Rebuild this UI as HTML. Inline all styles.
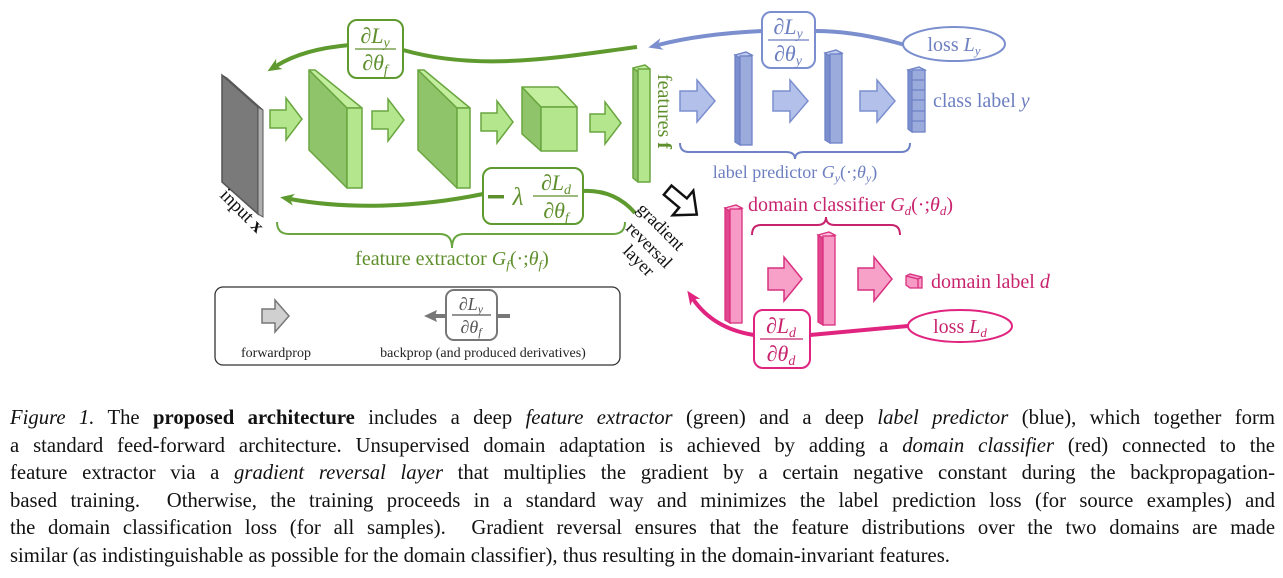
<!DOCTYPE html>
<html><head><meta charset="utf-8">
<style>
html,body{margin:0;padding:0;background:#fff;width:1283px;height:578px;overflow:hidden;position:relative;font-family:"Liberation Serif",serif;}
svg{position:absolute;left:0;top:0;}
.cap{position:absolute;left:10px;width:1265px;font-size:20.7px;line-height:21px;color:#111;text-align:justify;text-align-last:justify;white-space:nowrap;}
.cap.last{text-align-last:left}
</style></head><body>
<svg width="1283" height="400" viewBox="0 0 1283 400" font-family="Liberation Serif, serif">
<defs>
<marker id="mg" markerWidth="20" markerHeight="20" refX="4" refY="6" orient="auto" markerUnits="userSpaceOnUse" overflow="visible"><path d="M14,6 L0,0 L4,6 L0,12 Z" fill="#5e9a2e"/></marker>
<marker id="mb" markerWidth="20" markerHeight="20" refX="4" refY="6" orient="auto" markerUnits="userSpaceOnUse" overflow="visible"><path d="M14,6 L0,0 L4,6 L0,12 Z" fill="#7b8fce"/></marker>
<marker id="mp" markerWidth="20" markerHeight="20" refX="4" refY="6" orient="auto" markerUnits="userSpaceOnUse" overflow="visible"><path d="M14,6 L0,0 L4,6 L0,12 Z" fill="#e0247f"/></marker>
</defs>

<!-- input slab -->
<polygon points="222,75 258,107 258,214 222,182" fill="#7a7a7a" stroke="#555" stroke-width="1.5"/>
<polygon points="258,107 263,110 263,217 258,214" fill="#b0b0b0" stroke="#555" stroke-width="1"/>
<polygon points="222,75 227,78 263,110 258,107" fill="#999" stroke="#555" stroke-width="1"/>

<!-- green arrows -->
<g fill="#b4e68e" stroke="#6aa640" stroke-width="1.5">
<path d="M270,110 h16 v-12 l16,21 l-16,21 v-12 h-16 z"/>
<path d="M372,111 h16 v-12 l16,21 l-16,21 v-12 h-16 z"/>
<path d="M481,113 h16 v-12 l16,21 l-16,21 v-12 h-16 z"/>
<path d="M590,114 h15 v-12 l16,21 l-16,21 v-12 h-15 z"/>
</g>
<g stroke="#6aa640" stroke-width="1.5" stroke-linejoin="round">
<polygon points="309,70 347,108 347,188 309,150" fill="#8fc46a"/>
<polygon points="309,70 315,70 362,108 347,108" fill="#c3ee9e"/>
<polygon points="347,108 362,108 362,188 347,188" fill="#b4e68e"/>
<polygon points="418,70 457,108 457,188 418,150" fill="#8fc46a"/>
<polygon points="418,70 424,70 470,108 457,108" fill="#c3ee9e"/>
<polygon points="457,108 470,108 470,188 457,188" fill="#b4e68e"/>
<polygon points="522,87 541,107 541,151 522,134" fill="#8fc46a"/>
<polygon points="522,87 558,87 577,107 541,107" fill="#c3ee9e"/>
<rect x="541" y="107" width="36" height="44" fill="#b4e68e"/>
<polygon points="633,68 638,72 638,182 633,178" fill="#8fc46a"/>
<polygon points="633,68 645,65 650,69 638,72" fill="#c3ee9e"/>
<rect x="638" y="69" width="12" height="113" fill="#b4e68e"/>
</g>
<text transform="translate(658,74) rotate(90)" font-size="20" fill="#5e8f2c">features <tspan font-weight="bold">f</tspan></text>

<!-- top green backprop -->
<path d="M637,47 C560,57 480,72 403,50 L350,45 C315,48 292,56 276,66" fill="none" stroke="#5e9a2e" stroke-width="4" marker-end="url(#mg)"/>
<rect x="348" y="20" width="55" height="58" rx="9" fill="#fff" stroke="#5e9a2e" stroke-width="2"/>
<g fill="#5e8f2c" font-style="italic" font-size="22" text-anchor="middle">
<text x="375" y="43">∂L<tspan font-size="14" dy="4">y</tspan></text>
<line x1="355" y1="49" x2="396" y2="49" stroke="#5e8f2c" stroke-width="1.3"/>
<text x="375" y="70">∂θ<tspan font-size="14" dy="4">f</tspan></text>
</g>

<!-- bottom green backprop -->
<path d="M635,213 C622,198 605,190 583,191 L483,194 C420,207 350,210 290,199" fill="none" stroke="#5e9a2e" stroke-width="4" marker-end="url(#mg)"/>
<rect x="483" y="168" width="100" height="56" rx="9" fill="#fff" stroke="#5e9a2e" stroke-width="2"/>
<g fill="#5e8f2c" font-size="22" text-anchor="middle" font-style="italic">
<rect x="488" y="195" width="16" height="3.5" fill="#5e8f2c"/>
<text x="518" y="205" font-size="25">λ</text>
<text x="556" y="190">∂L<tspan font-size="14" dy="4">d</tspan></text>
<line x1="533" y1="196" x2="578" y2="196" stroke="#5e8f2c" stroke-width="1.3"/>
<text x="556" y="218">∂θ<tspan font-size="14" dy="4">f</tspan></text>
</g>

<path d="M277,222 q0,12 12,12 L440,234 q12,0 12,14 q0,-14 12,-14 L613,234 q12,0 12,-12" fill="none" stroke="#6aa640" stroke-width="2"/>
<text x="452" y="265" text-anchor="middle" font-size="20" fill="#5e8f2c">feature extractor <tspan font-style="italic">G<tspan font-size="13" dy="4">f</tspan><tspan dy="-4" font-style="normal">(·;</tspan>θ<tspan font-size="13" dy="4">f</tspan><tspan dy="-4" font-style="normal">)</tspan></tspan></text>

<text transform="translate(219,196) rotate(45)" font-size="19" fill="#111">input <tspan font-weight="bold">x</tspan></text>
<g font-size="18" fill="#111">
<text transform="translate(636,210) rotate(45)">gradient</text>
<text transform="translate(625,229) rotate(45)">reversal</text>
<text transform="translate(622,252) rotate(45)">layer</text>
</g>
<g transform="translate(683,203) rotate(40)">
<path d="M-20,-6 h20 v-10 l18,16 l-18,16 v-10 h-20 z" fill="#fff" stroke="#111" stroke-width="2.5"/>
</g>

<!-- blue predictor -->
<g fill="#b2c0ea" stroke="#7b8fce" stroke-width="1.5">
<path d="M680,91 h17 v-11 l18,21 l-18,21 v-11 h-17 z"/>
<path d="M773,91 h17 v-11 l18,21 l-18,21 v-11 h-17 z"/>
<path d="M860,91 h17 v-11 l18,21 l-18,21 v-11 h-17 z"/>
</g>
<g stroke="#6f82c6" stroke-width="1.3">
<polygon points="735,55 740,58 740,145 735,142" fill="#7b8fce"/>
<polygon points="735,55 746,52 752,55 740,58" fill="#c0ccf0"/>
<rect x="740" y="56" width="12" height="89" fill="#9aabdc"/>
<polygon points="825,53 830,56 830,143 825,140" fill="#7b8fce"/>
<polygon points="825,53 836,50 842,53 830,56" fill="#c0ccf0"/>
<rect x="830" y="54" width="12" height="89" fill="#9aabdc"/>
<polygon points="908,70 912,72 912,132 908,129" fill="#7b8fce"/>
<polygon points="908,70 919,67 925,70 912,72" fill="#c0ccf0"/>
<rect x="912" y="70" width="13" height="62" fill="#9aabdc"/>
<line x1="912" y1="80" x2="925" y2="80"/><line x1="912" y1="90" x2="925" y2="90"/><line x1="912" y1="100" x2="925" y2="100"/><line x1="912" y1="111" x2="925" y2="111"/><line x1="912" y1="121" x2="925" y2="121"/>
</g>
<text x="933" y="107" font-size="20" fill="#6d7fc0">class label <tspan font-style="italic">y</tspan></text>
<path d="M680,143 q0,9 9,9 L786,152 q9,0 9,7 q0,-7 9,-7 L901,152 q9,0 9,-9" fill="none" stroke="#6f82c6" stroke-width="2"/>
<text x="795" y="178" text-anchor="middle" font-size="18" fill="#6d7fc0">label predictor <tspan font-style="italic">G<tspan font-size="12" dy="4">y</tspan><tspan dy="-4" font-style="normal">(·;</tspan>θ<tspan font-size="12" dy="4">y</tspan><tspan dy="-4" font-style="normal">)</tspan></tspan></text>
<path d="M905,45 C870,35 840,31 815,31 L762,31 C720,33 685,38 658,45" fill="none" stroke="#7b8fce" stroke-width="4" marker-end="url(#mb)"/>
<rect x="762" y="12" width="53" height="56" rx="9" fill="#fff" stroke="#7b8fce" stroke-width="2"/>
<g fill="#6d7fc0" font-style="italic" font-size="22" text-anchor="middle">
<text x="788" y="34">∂L<tspan font-size="14" dy="4">y</tspan></text>
<line x1="768" y1="40" x2="809" y2="40" stroke="#6d7fc0" stroke-width="1.3"/>
<text x="788" y="61">∂θ<tspan font-size="14" dy="4">y</tspan></text>
</g>
<ellipse cx="954" cy="44" rx="51" ry="17" fill="#fff" stroke="#7b8fce" stroke-width="2"/>
<text x="954" y="51" text-anchor="middle" font-size="20" fill="#6d7fc0">loss <tspan font-style="italic">L<tspan font-size="13" dy="4">y</tspan></tspan></text>

<!-- pink domain -->
<g stroke="#d9307f" stroke-width="1.3">
<polygon points="725,208 730,211 730,323 725,320" fill="#e0478f"/>
<polygon points="725,208 736,205 742,208 730,211" fill="#fbc0dc"/>
<rect x="730" y="209" width="12" height="114" fill="#f79ac6"/>
<polygon points="818,235 823,238 823,325 818,322" fill="#e0478f"/>
<polygon points="818,235 829,232 835,235 823,238" fill="#fbc0dc"/>
<rect x="823" y="236" width="12" height="89" fill="#f79ac6"/>
<polygon points="906,276 910,274 922,277 922,288 910,288 906,285" fill="#f79ac6"/>
<polyline points="906,276 918,279 922,277" fill="none"/><line x1="918" y1="279" x2="918" y2="288"/>
</g>
<g fill="#f7a1c9" stroke="#d9307f" stroke-width="1.5">
<path d="M768,268 h16 v-11 l18,22 l-18,22 v-11 h-16 z"/>
<path d="M858,268 h16 v-11 l18,22 l-18,22 v-11 h-16 z"/>
</g>
<text x="748" y="211" font-size="20" fill="#c8246e">domain classifier <tspan font-style="italic">G<tspan font-size="13" dy="4">d</tspan><tspan dy="-4" font-style="normal">(·;</tspan>θ<tspan font-size="13" dy="4">d</tspan><tspan dy="-4" font-style="normal">)</tspan></tspan></text>
<path d="M752,235 q0,-10 9,-10 L817,225 q9,0 9,-8 q0,8 9,8 L891,225 q9,0 9,10" fill="none" stroke="#c8246e" stroke-width="2"/>
<text x="931" y="288" font-size="20" fill="#c8246e">domain label <tspan font-style="italic">d</tspan></text>
<path d="M908,326 L810,335 L754,335 C722,330 704,315 693,299" fill="none" stroke="#e0247f" stroke-width="4" marker-end="url(#mp)"/>
<rect x="754" y="310" width="56" height="58" rx="9" fill="#fff" stroke="#e0247f" stroke-width="2"/>
<g fill="#c8246e" font-style="italic" font-size="22" text-anchor="middle">
<text x="781" y="333">∂L<tspan font-size="14" dy="4">d</tspan></text>
<line x1="760" y1="339" x2="803" y2="339" stroke="#c8246e" stroke-width="1.3"/>
<text x="781" y="361">∂θ<tspan font-size="14" dy="4">d</tspan></text>
</g>
<ellipse cx="960" cy="326" rx="52" ry="16" fill="#fff" stroke="#e0247f" stroke-width="2"/>
<text x="960" y="333" text-anchor="middle" font-size="20" fill="#c8246e">loss <tspan font-style="italic">L<tspan font-size="13" dy="4">d</tspan></tspan></text>

<!-- legend -->
<rect x="215" y="287" width="405" height="78" rx="8" fill="#fff" stroke="#333" stroke-width="1.3"/>
<path d="M262,309 h13 v-9 l14,16 l-14,16 v-9 h-13 z" fill="#d0d0d0" stroke="#777" stroke-width="1.5"/>
<text x="276" y="357" text-anchor="middle" font-size="14" fill="#222">forwardprop</text>
<path d="M510,316 L432,316" stroke="#777" stroke-width="4" fill="none"/>
<path d="M424,316 L437,310 L435,316 L437,322 Z" fill="#777"/>
<rect x="446" y="290" width="51" height="50" rx="8" fill="#fff" stroke="#777" stroke-width="2"/>
<g fill="#555" font-style="italic" font-size="18" text-anchor="middle">
<text x="471" y="310">∂L<tspan font-size="12" dy="3">y</tspan></text>
<line x1="452" y1="315" x2="491" y2="315" stroke="#555" stroke-width="1.2"/>
<text x="471" y="333">∂θ<tspan font-size="12" dy="3">f</tspan></text>
</g>
<text x="483" y="357" text-anchor="middle" font-size="14" fill="#222">backprop (and produced derivatives)</text>
</svg>

<div class="cap" style="top:408px"><i>Figure 1.</i> The <b>proposed architecture</b> includes a deep <i>feature extractor</i> (green) and a deep <i>label predictor</i> (blue), which together form</div>
<div class="cap" style="top:436px">a standard feed-forward architecture. Unsupervised domain adaptation is achieved by adding a <i>domain classifier</i> (red) connected to the</div>
<div class="cap" style="top:463px">feature extractor via a <i>gradient reversal layer</i> that multiplies the gradient by a certain negative constant during the backpropagation-</div>
<div class="cap" style="top:491px">based training. &nbsp;Otherwise, the training proceeds in a standard way and minimizes the label prediction loss (for source examples) and</div>
<div class="cap" style="top:518px">the domain classification loss (for all samples). &nbsp;Gradient reversal ensures that the feature distributions over the two domains are made</div>
<div class="cap last" style="top:546px">similar (as indistinguishable as possible for the domain classifier), thus resulting in the domain-invariant features.</div>
</body></html>
